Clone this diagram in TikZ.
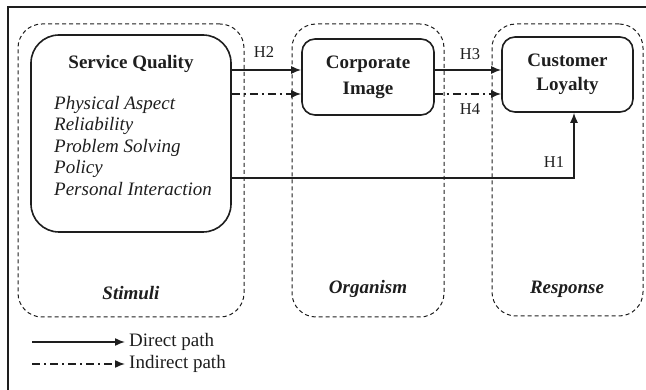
\documentclass[tikz,border=0pt]{standalone}
\usepackage{fontspec}
\setmainfont{Liberation Serif}
\usetikzlibrary{arrows.meta}
\definecolor{ink}{HTML}{1E1E1E}
\tikzset{
  x=1pt, y=-1pt,
  every node/.style={text=ink, font=\fontsize{19}{21.5}\selectfont},
  group/.style={draw=ink, line width=1pt, dash pattern=on 4pt off 3pt, rounded corners=24pt, inner sep=0pt},
  construct/.style={draw=ink, line width=1.6pt, inner sep=0pt},
  tipstyle/.style={-{Latex[length=10pt,width=8pt]}},
  direct/.style={draw=ink, line width=1.5pt, tipstyle},
  indirect/.style={draw=ink, line width=1.5pt, dash pattern=on 8pt off 4pt on 2pt off 4pt, tipstyle},
  hlabel/.style={font=\fontsize{16.5}{18}\selectfont},
  stage/.style={font=\fontsize{19}{22}\selectfont\bfseries\itshape},
}
\begin{document}
\begin{tikzpicture}
\useasboundingbox (0,0) rectangle (646,390);
% outer frame (left and top edges)
\draw[ink, line width=1.3pt] (8,390) -- (8,7) -- (646,7);

% stage groups
\node[group, minimum width=226pt, minimum height=293pt] (stim) at (131,170.5) {};
\node[group, minimum width=152pt, minimum height=293pt] (org) at (368,170.5) {};
\node[group, minimum width=151pt, minimum height=292pt] (resp) at (567.5,170) {};
\node[stage] (stimt) at (131,293) {Stimuli};
\node[stage] (orgt) at (368,289) {Organism};
\node[stage] (respt) at (567,289) {Response};

% constructs
\node[construct, rounded corners=28pt, minimum width=200pt, minimum height=197pt] (sq) at (131,133.5) {};
\node[font=\fontsize{19}{22}\selectfont\bfseries] (sqt) at (131,64) {Service Quality};
\node[anchor=north west, align=left, inner sep=0pt, font=\fontsize{19}{21.5}\selectfont\itshape] (dims) at (54,96)
  {Physical Aspect\\Reliability\\Problem Solving\\Policy\\Personal Interaction};
\node[construct, rounded corners=13pt, minimum width=132pt, minimum height=76pt,
      align=center, font=\fontsize{19}{26}\selectfont\bfseries] (ci) at (368,77) {Corporate\\Image};
\node[construct, rounded corners=13pt, minimum width=131pt, minimum height=75pt,
      align=center, font=\fontsize{19}{24}\selectfont\bfseries] (cl) at (567.5,74.5) {Customer\\Loyalty};

% path levels
\coordinate (ya) at (0,70);
\coordinate (yb) at (0,94);
\coordinate (yc) at (0,178);
\coordinate (xh1) at (574,0);

\draw[direct] (sq.east |- ya) -- (ci.west |- ya);
\draw[indirect] (sq.east |- yb) -- (ci.west |- yb);
\draw[direct] (ci.east |- ya) -- (cl.west |- ya);
\draw[indirect] (ci.east |- yb) -- (cl.west |- yb);
\draw[direct] (sq.east |- yc) -- (xh1 |- yc) -- (xh1 |- cl.south);

\node[hlabel] (h2) at (264,52) {H2};
\node[hlabel] (h3) at (470,54) {H3};
\node[hlabel] (h4) at (470,109) {H4};
\node[hlabel] (h1) at (554,162) {H1};

% legend
\coordinate (la) at (32,342);
\coordinate (lb) at (32,364);
\node[anchor=west, inner sep=0pt] (lda) at (129,342) {Direct path};
\node[anchor=west, inner sep=0pt] (ldb) at (129,364) {Indirect path};
\draw[direct] (la) -- ([xshift=-4pt]lda.west);
\draw[indirect] (lb) -- ([xshift=-4pt]ldb.west);
\end{tikzpicture}
\end{document}
